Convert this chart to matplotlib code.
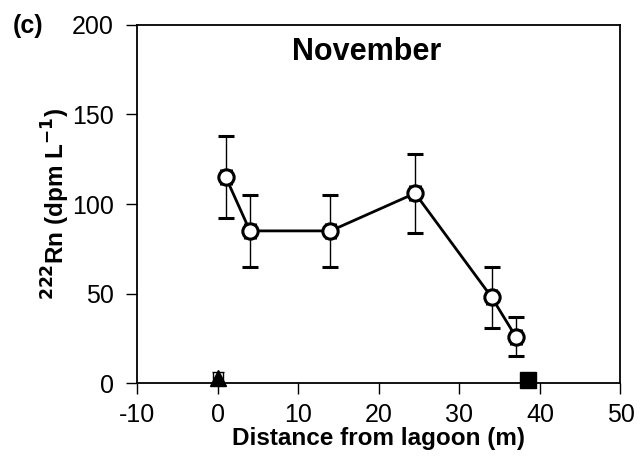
import numpy as np
import matplotlib.pyplot as plt

plt.rcParams['font.family'] = ['Liberation Sans', 'DejaVu Sans']
plt.rcParams['axes.unicode_minus'] = False

# open circles: groundwater transect
dist = [1, 4, 14, 24.5, 34, 37]
rn = [115, 85, 85, 106, 48, 26]
rn_err = [23, 20, 20, 22, 17, 11]
dist_err = [0.6, 0.6, 0.6, 0.6, 0.6, 0.6]

# lagoon (triangle) and sea (square)
lag_x, lag_y, lag_err = [0], [3], [3]
sea_x, sea_y = [38.5], [2]

fig = plt.figure(figsize=(6.41, 4.69), dpi=100)
ax = fig.add_axes([0.214, 0.183, 0.754, 0.764])

ax.errorbar(dist, rn, yerr=rn_err, xerr=dist_err, color='black', lw=2,
            elinewidth=1, capsize=6, capthick=1, marker='o', ms=11,
            mfc='white', mec='black', mew=2.2, zorder=3)
ax.errorbar(lag_x, lag_y, yerr=lag_err, xerr=[0.6], fmt='^', color='black',
            ms=11, elinewidth=1, capsize=4, zorder=3, clip_on=False)
ax.plot(sea_x, sea_y, 's', color='black', ms=11, zorder=3, clip_on=False)

ax.set_xlim(-10, 50)
ax.set_ylim(0, 200)
ax.set_xticks(np.arange(-10, 51, 10))
ax.set_yticks(np.arange(0, 201, 50))
ax.tick_params(labelsize=18, width=1, length=8, direction='out')
ax.tick_params(axis='y', pad=9)
ax.tick_params(axis='x', pad=6)
for s in ax.spines.values():
    s.set_linewidth(1.3)

ax.set_xlabel('Distance from lagoon (m)', fontsize=17.5, fontweight='bold',
              labelpad=0)
ax.set_ylabel(r'$\mathbf{^{222}}$Rn (dpm L$\mathbf{^{-1}}$)', fontsize=17.5,
              fontweight='bold', labelpad=0)
ax.text(0.475, 0.965, 'November', transform=ax.transAxes, ha='center', va='top',
        fontsize=22, fontweight='bold')
fig.text(0.02, 0.945, '(c)', fontsize=18, fontweight='bold', va='center')

fig.savefig('out.png', dpi=100)
